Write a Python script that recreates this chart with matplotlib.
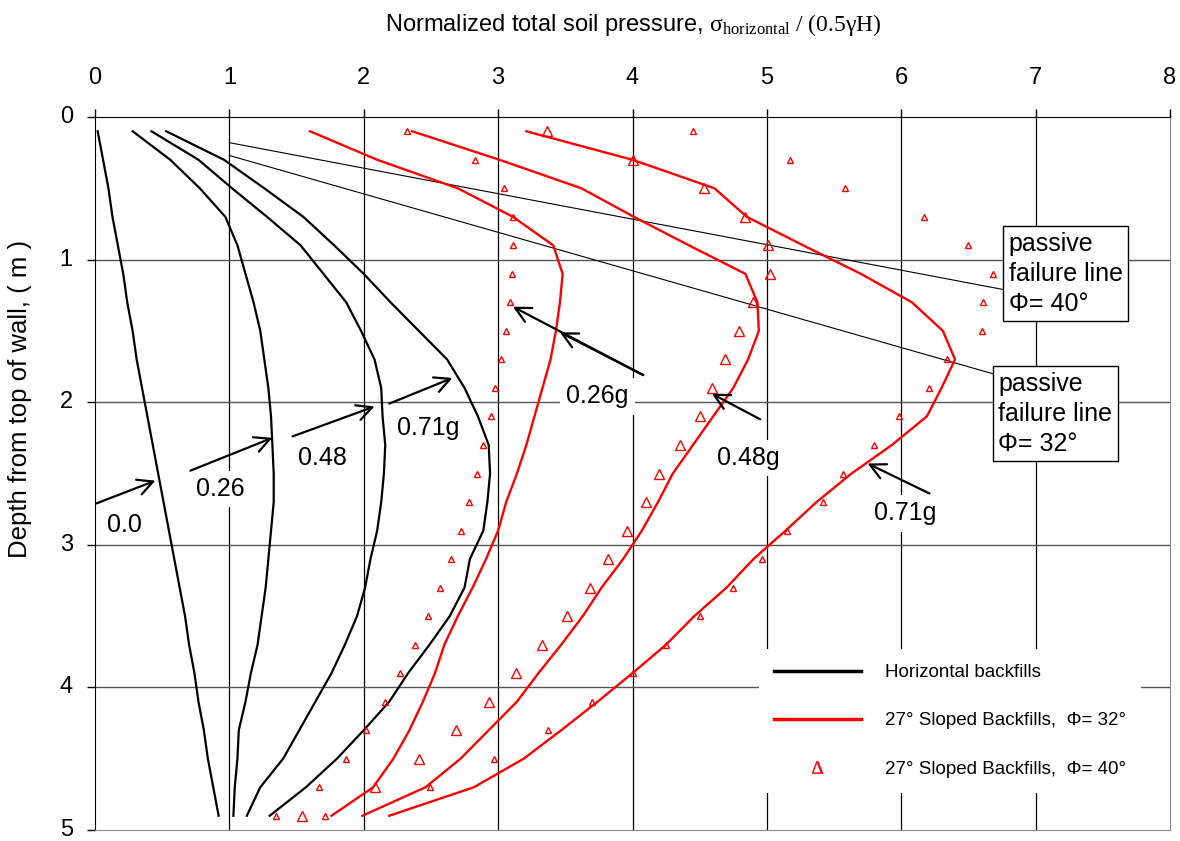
import matplotlib
matplotlib.use("Agg")
import matplotlib.pyplot as plt
from matplotlib.lines import Line2D

plt.rcParams["font.family"] = ["Liberation Sans", "DejaVu Sans"]
plt.rcParams["mathtext.fontset"] = "custom"
plt.rcParams["mathtext.rm"] = "Liberation Serif"
plt.rcParams["mathtext.it"] = "Liberation Serif:italic"

# depth of each reading (m)
depth = [0.1, 0.3, 0.5, 0.7, 0.9, 1.1, 1.3, 1.5, 1.7, 1.9, 2.1, 2.3, 2.5,
         2.7, 2.9, 3.1, 3.3, 3.5, 3.7, 3.9, 4.1, 4.3, 4.5, 4.7, 4.9]

# horizontal backfills (black lines), 0.0 / 0.26 / 0.48 / 0.71 g
horiz_000 = [0.02, 0.06, 0.10, 0.13, 0.17, 0.21, 0.24, 0.28, 0.31, 0.35, 0.39, 0.43, 0.47,
             0.51, 0.55, 0.59, 0.63, 0.67, 0.70, 0.74, 0.77, 0.81, 0.84, 0.88, 0.92]
horiz_026 = [0.28, 0.56, 0.78, 0.97, 1.06, 1.12, 1.18, 1.23, 1.26, 1.29, 1.31, 1.32, 1.33,
             1.33, 1.31, 1.29, 1.27, 1.24, 1.21, 1.16, 1.12, 1.07, 1.06, 1.04, 1.03]
horiz_048 = [0.42, 0.77, 1.02, 1.28, 1.53, 1.70, 1.87, 1.98, 2.08, 2.13, 2.14, 2.16, 2.15,
             2.13, 2.10, 2.05, 2.01, 1.95, 1.86, 1.76, 1.64, 1.52, 1.40, 1.23, 1.13]
horiz_071 = [0.53, 0.96, 1.26, 1.55, 1.78, 2.00, 2.20, 2.41, 2.62, 2.75, 2.85, 2.93, 2.94,
             2.92, 2.89, 2.79, 2.75, 2.64, 2.49, 2.33, 2.19, 2.00, 1.80, 1.57, 1.30]

# 27 deg sloped backfills, phi = 32 (red lines)
slope32_026 = [1.60, 2.10, 2.70, 3.11, 3.41, 3.48, 3.46, 3.43, 3.39, 3.33, 3.27, 3.21, 3.14,
               3.06, 3.00, 2.91, 2.81, 2.70, 2.60, 2.53, 2.44, 2.34, 2.22, 2.07, 1.76]
slope32_048 = [2.36, 3.01, 3.62, 4.01, 4.42, 4.84, 4.93, 4.94, 4.86, 4.75, 4.60, 4.45, 4.30,
               4.19, 4.07, 3.93, 3.77, 3.63, 3.47, 3.30, 3.14, 2.93, 2.72, 2.46, 1.99]
slope32_071 = [3.21, 4.00, 4.61, 4.85, 5.27, 5.70, 6.08, 6.31, 6.40, 6.30, 6.19, 5.93, 5.63,
               5.37, 5.14, 4.90, 4.70, 4.46, 4.25, 4.00, 3.74, 3.47, 3.19, 2.82, 2.19]

# 27 deg sloped backfills, phi = 40 (red triangles)
slope40_026 = [2.32, 2.83, 3.04, 3.11, 3.11, 3.10, 3.09, 3.06, 3.02, 2.98, 2.95, 2.89, 2.84,
               2.78, 2.72, 2.65, 2.57, 2.48, 2.38, 2.27, 2.16, 2.02, 1.87, 1.67, 1.35]
slope40_048 = [3.36, 4.00, 4.53, 4.84, 5.01, 5.02, 4.90, 4.79, 4.69, 4.59, 4.50, 4.35, 4.20,
               4.10, 3.96, 3.82, 3.68, 3.51, 3.33, 3.13, 2.93, 2.69, 2.41, 2.08, 1.54]
slope40_071 = [4.45, 5.17, 5.58, 6.17, 6.50, 6.68, 6.61, 6.60, 6.34, 6.21, 5.98, 5.80, 5.57,
               5.42, 5.15, 4.96, 4.75, 4.50, 4.25, 4.00, 3.70, 3.37, 2.97, 2.49, 1.71]

# passive failure lines: (x0, d0) -> (x1, d1)
fail40 = [(1.0, 0.18), (6.76, 1.21)]
fail32 = [(1.0, 0.27), (6.68, 1.80)]

fig = plt.figure(figsize=(11.8, 8.41), dpi=100)
ax = fig.add_axes([95 / 1180, 1 - 830 / 841, 1075 / 1180, 713 / 841])
ax.set_xlim(0, 8)
ax.set_ylim(5, 0)

# grid
for gx in range(1, 8):
    ax.axvline(gx, color="black", lw=0.9, zorder=0)
for gy in range(1, 5):
    ax.axhline(gy, color="#555555", lw=1.0, zorder=0)

for s in (horiz_000, horiz_026, horiz_048, horiz_071):
    ax.plot(s, depth, color="black", lw=1.6, zorder=3)
for s in (slope32_026, slope32_048, slope32_071):
    ax.plot(s, depth, color="red", lw=1.7, zorder=3)
for s, ms in ((slope40_026, 4.2), (slope40_048, 7.5), (slope40_071, 4.2)):
    ax.plot(s, depth, ls="none", marker="^", ms=ms, mfc="none", mec="red", mew=1.0, zorder=3)

for (x0, d0), (x1, d1) in (fail40, fail32):
    ax.plot([x0, x1], [d0, d1], color="black", lw=0.8, zorder=2)

box = dict(boxstyle="square,pad=0.22", fc="white", ec="black", lw=1.0)
ax.text(6.80, 1.10, "passive\nfailure line\nΦ= 40°", fontsize=18, ha="left", va="center",
        linespacing=1.32, bbox=box, zorder=4)
ax.text(6.72, 2.08, "passive\nfailure line\nΦ= 32°", fontsize=18, ha="left", va="center",
        linespacing=1.32, bbox=box, zorder=4)

# arrows + labels
arrow = dict(arrowstyle="->,head_length=0.55,head_width=0.28", color="black", lw=1.6,
             shrinkA=0, shrinkB=0, mutation_scale=20)
arrows = [
    ((0.01, 2.71), (0.45, 2.55)),
    ((0.71, 2.48), (1.32, 2.25)),
    ((1.47, 2.24), (2.08, 2.03)),
    ((2.19, 2.01), (2.66, 1.83)),
    ((4.08, 1.81), (3.11, 1.33)),
    ((4.08, 1.81), (3.46, 1.51)),
    ((4.95, 2.12), (4.59, 1.94)),
    ((6.21, 2.64), (5.75, 2.43)),
]
for tail, head in arrows:
    ax.annotate("", xy=head, xytext=tail, arrowprops=arrow, zorder=5)

lbl = dict(boxstyle="square,pad=0.25", fc="white", ec="none")
labels = [("0.0", 0.22, 2.86), ("0.26", 0.93, 2.61), ("0.48", 1.69, 2.39),
          ("0.71g", 2.48, 2.18), ("0.26g", 3.74, 1.96), ("0.48g", 4.86, 2.39),
          ("0.71g", 6.03, 2.78)]
for t, x, d in labels:
    ax.text(x, d, t, fontsize=18, ha="center", va="center", bbox=lbl, zorder=1)

# axes styling
ax.xaxis.tick_top()
ax.set_xticks(range(0, 9))
ax.set_yticks(range(0, 6))
ax.tick_params(axis="x", direction="out", length=6, width=1, pad=14, labelsize=17)
ax.tick_params(axis="y", direction="out", length=6, width=1, pad=10, labelsize=17)
for t in ax.get_yticklabels():
    t.set_verticalalignment("center")
for side in ("top", "left"):
    ax.spines[side].set_color("black")
for side in ("right", "bottom"):
    ax.spines[side].set_color("#888888")

handles = [
    Line2D([], [], color="black", lw=2.5),
    Line2D([], [], color="red", lw=2.5),
    Line2D([], [], ls="none", marker=r"$\Delta$", ms=9, color="red", mew=0.3),
]
names = ["Horizontal backfills", "27° Sloped Backfills,  Φ= 32°", "27° Sloped Backfills,  Φ= 40°"]
leg = ax.legend(handles, names, loc="center", bbox_to_anchor=(0.7955, 0.153), fontsize=13.5,
                handlelength=4.6, handletextpad=1.3, labelspacing=1.65, frameon=True,
                fancybox=False, borderpad=0.8, borderaxespad=0)
leg.get_frame().set_edgecolor("none")
leg.get_frame().set_alpha(1)
leg.set_zorder(6)

fig.text(633 / 1180, 1 - 31 / 841,
         r"Normalized total soil pressure, $\mathrm{\sigma_{horizontal}\ /\ (0.5\gamma H)}$",
         fontsize=17, ha="center", va="baseline")
fig.text(20 / 1180, 1 - 558 / 841, "Depth from top of wall, ( m )", fontsize=18.5,
         rotation=90, ha="center", va="bottom")

fig.savefig("out.png", dpi=100)
